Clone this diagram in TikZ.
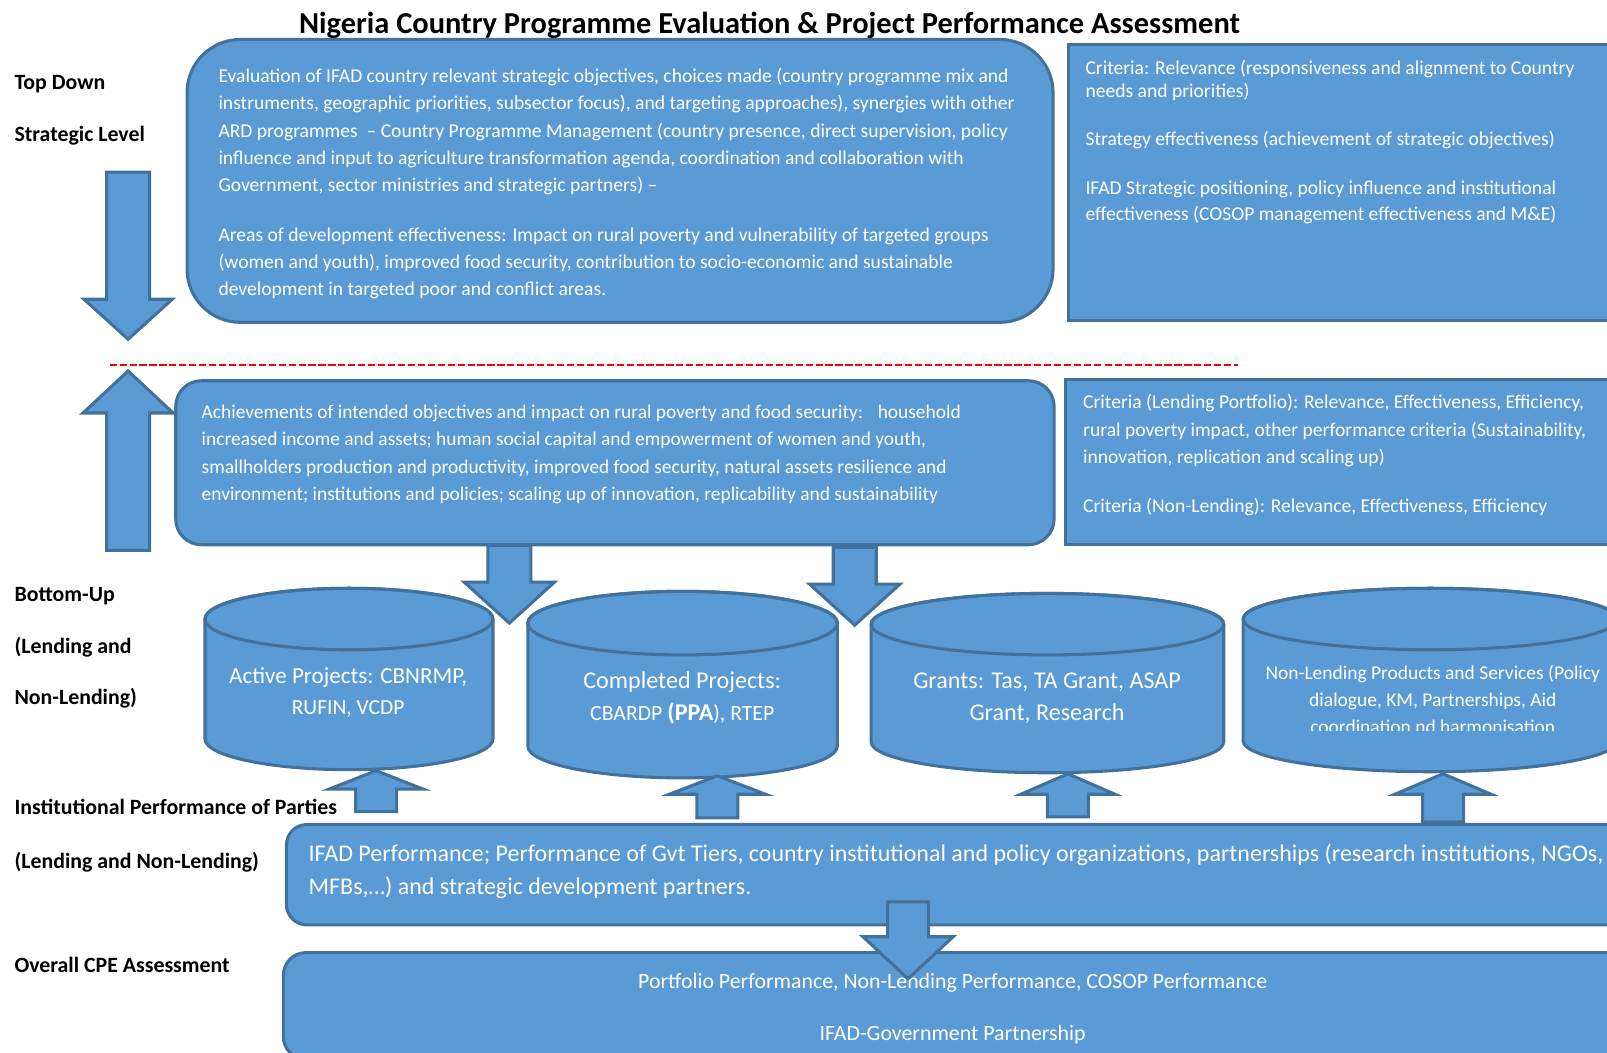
\documentclass[tikz,border=0pt]{standalone}
\usepackage{fontspec}
\setmainfont{Carlito}
\definecolor{fillblue}{HTML}{5B9BD5}
\definecolor{edgeblue}{HTML}{41719C}
\begin{document}
\begin{tikzpicture}[x=1pt,y=-1pt,
  box/.style={fill=fillblue,draw=edgeblue,line width=3pt},
  panel/.style={box,anchor=north west,inner sep=0pt},
  blockarrow/.style={box,line join=miter},
  body/.style={text=white,inner sep=0pt,yshift=-1.5pt,font=\fontsize{19.1}{23}\selectfont},
  label/.style={text=black,inner sep=0pt,yshift=-1.5pt,anchor=base west,font=\bfseries\fontsize{21.3}{25}\selectfont},
  divider/.style={red,line width=2.4pt,dash pattern=on 7pt off 2.7pt}]

\useasboundingbox (0,0) rectangle (1568,1027);
\clip (0,0) rectangle (1568,1027);

% vertical block arrow: centre x, tail y, head-base y, tip y, half shaft, half head
\newcommand\blockarr[6]{%
  \draw[blockarrow] ({#1-#5},#2) -- ({#1-#5},#3) -- ({#1-#6},#3) -- (#1,#4)
    -- ({#1+#6},#3) -- ({#1+#5},#3) -- ({#1+#5},#2) -- cycle;}
% cylinder: left x, right x, top centre y, bottom centre y, end radius
\newcommand\drum[5]{%
  \path[box] (#1,#3) -- (#1,#4)
    arc[start angle=180,end angle=360,x radius={(#2-#1)/2*1pt},y radius=#5pt]
    -- (#2,#3)
    arc[start angle=0,end angle=180,x radius={(#2-#1)/2*1pt},y radius=#5pt] -- cycle;
  \draw[edgeblue,line width=3pt] ({(#1+#2)/2},#3) ellipse[x radius={(#2-#1)/2*1pt},y radius=#5pt];}

% title
\node[anchor=base,inner sep=0pt,yshift=-1.5pt,font=\bfseries\fontsize{29.7}{34}\selectfont] (title) at (751,31)
  {Nigeria Country Programme Evaluation \& Project Performance Assessment};

% row labels
\node[label] (lTop)   at (14,86)    {Top Down};
\node[label] (lStrat) at (14,136.6) {Strategic Level};
\node[label] (lBot1)  at (14,585.4) {Bottom-Up};
\node[label] (lBot2)  at (14,636)   {(Lending and};
\node[label] (lBot3)  at (14,686)   {Non-Lending)};
\node[label] (lInst1) at (14,793.5) {Institutional Performance of Parties};
\node[label] (lInst2) at (14,845.6) {(Lending and Non-Lending)};
\node[label] (lCPE)   at (14,947)   {Overall CPE Assessment};

% panels
\node[panel,rounded corners=52pt,minimum width=845pt,minimum height=276pt] (strategic) at (181,37) {};
\node[panel,minimum width=600pt,minimum height=269pt] (critTop) at (1041,42) {};
\node[panel,rounded corners=25pt,minimum width=857pt,minimum height=160pt] (results) at (170,370) {};
\node[panel,minimum width=600pt,minimum height=161pt] (critPort) at (1038,369) {};
\node[panel,rounded corners=20pt,minimum width=1360pt,minimum height=98pt] (parties) at (278,803) {};
\node[panel,rounded corners=22pt,minimum width=1360pt,minimum height=104pt] (overall) at (275,928) {};

% strategic level text
\foreach \t [count=\i from 0] in {
  {Evaluation of IFAD country relevant strategic objectives, choices made (country programme mix and},
  {instruments, geographic priorities, subsector focus), and targeting approaches), synergies with other},
  {ARD programmes \ – Country Programme Management (country presence, direct supervision, policy},
  {influence and input to agriculture transformation agenda, coordination and collaboration with},
  {Government, sector ministries and strategic partners) –}}
  \node[body,anchor=base west] (strat-\i) at (213,{79+\i*26.7}) {\t};
\foreach \t [count=\i from 0] in {
  {Areas of development effectiveness: Impact on rural poverty and vulnerability of targeted groups},
  {(women and youth), improved food security, contribution to socio-economic and sustainable},
  {development in targeted poor and conflict areas.}}
  \node[body,anchor=base west] (areas-\i) at (213,{234+\i*26.6}) {\t};

% strategic criteria
\node[body,anchor=base west] (ct-0) at (1059,71)    {Criteria: Relevance (responsiveness and alignment to Country};
\node[body,anchor=base west] (ct-1) at (1059,93.4)  {needs and priorities)};
\node[body,anchor=base west] (ct-2) at (1059,140.5) {Strategy effectiveness (achievement of strategic objectives)};
\node[body,anchor=base west] (ct-3) at (1059,188)   {IFAD Strategic positioning, policy influence and institutional};
\node[body,anchor=base west] (ct-4) at (1059,213.7) {effectiveness (COSOP management effectiveness and M\&E)};

% divider between the two levels
\coordinate (divA) at (107,356);
\coordinate (divB) at (1074,356);
\coordinate (divC) at (1078,356);
\coordinate (divD) at (1208,356);
\draw[divider] (divA) -- (divB);
\draw[divider] (divC) -- (divD);

% results text
\foreach \t [count=\i from 0] in {
  {Achievements of intended objectives and impact on rural poverty and food security: \ \ household},
  {increased income and assets; human social capital and empowerment of women and youth,},
  {smallholders production and productivity, improved food security, natural assets resilience and},
  {environment; institutions and policies; scaling up of innovation, replicability and sustainability}}
  \node[body,anchor=base west,font=\fontsize{18.95}{23}\selectfont] (res-\i) at (196.6,{406.5+\i*26.8}) {\t};

% portfolio criteria
\node[body,anchor=base west] (cp-0) at (1056.7,397)   {Criteria (Lending Portfolio): Relevance, Effectiveness, Efficiency,};
\node[body,anchor=base west] (cp-1) at (1056.7,424)   {rural poverty impact, other performance criteria (Sustainability,};
\node[body,anchor=base west] (cp-2) at (1056.7,450.5) {innovation, replication and scaling up)};
\node[body,anchor=base west] (cp-3) at (1056.7,498.3) {Criteria (Non-Lending): Relevance, Effectiveness, Efficiency};

% project drums
\drum{200}{481}{604}{721}{30}
\drum{515}{817}{608}{728}{31}
\drum{850}{1194}{609}{724}{30}
\drum{1213}{1578}{604}{723}{30}

\node[body,anchor=base,font=\fontsize{22.5}{26}\selectfont] (act-0) at (339.7,665) {Active Projects: CBNRMP,};
\node[body,anchor=base,font=\fontsize{21}{25}\selectfont] (act-1) at (339.7,696) {RUFIN, VCDP};
\node[body,anchor=base,font=\fontsize{23.5}{27}\selectfont] (comp-0) at (665.7,670) {Completed Projects:};
\node[body,anchor=base,font=\fontsize{21.2}{25}\selectfont] (comp-1) at (665.7,701.6) {CBARDP {\bfseries\fontsize{23.5}{27}\selectfont(PPA}), RTEP};
\node[body,anchor=base,font=\fontsize{23.5}{27}\selectfont] (gr-0) at (1021.6,670) {Grants: Tas, TA Grant, ASAP};
\node[body,anchor=base,font=\fontsize{23.5}{27}\selectfont] (gr-1) at (1021.6,701.6) {Grant, Research};
\begin{scope}
  \clip (1200,630) rectangle (1600,712.5);
  \node[body,anchor=base,font=\fontsize{19}{23}\selectfont] (nl-0) at (1398,661.7) {Non-Lending Products and Services (Policy};
  \node[body,anchor=base,font=\fontsize{19}{23}\selectfont] (nl-1) at (1398,688)   {dialogue, KM, Partnerships, Aid};
  \node[body,anchor=base,font=\fontsize{19}{23}\selectfont] (nl-2) at (1398,714.5) {coordination nd harmonisation};
\end{scope}

% institutional performance text
\node[body,anchor=base west,font=\fontsize{23.4}{27}\selectfont] (par-0) at (301,839)
  {IFAD Performance; Performance of Gvt Tiers, country institutional and policy organizations, partnerships (research institutions, NGOs,};
\node[body,anchor=base west,font=\fontsize{23.4}{27}\selectfont] (par-1) at (301,871.5)
  {MFBs,…) and strategic development partners.};

% overall assessment text
\node[body,anchor=base,font=\fontsize{21.3}{25}\selectfont] (ov-0) at (929.5,963) {Portfolio Performance, Non-Lending Performance, COSOP Performance};
\node[body,anchor=base,font=\fontsize{21.3}{25}\selectfont] (ov-1) at (929.5,1014) {IFAD-Government Partnership};

% block arrows
\blockarr{125}{168}{292}{331}{21}{43}
\blockarr{125}{537}{403}{362}{21}{44}
\blockarr{497}{532}{568}{608}{21}{44}
\blockarr{834}{534}{570}{610}{21}{44}
\blockarr{367}{792}{770}{752}{20}{46}
\blockarr{700}{798}{775}{757}{20}{47}
\blockarr{1042}{797}{775}{755}{20}{46}
\blockarr{1408}{802}{775}{755}{20}{47}
\blockarr{886}{880}{914}{955}{20}{44}

\end{tikzpicture}
\end{document}
